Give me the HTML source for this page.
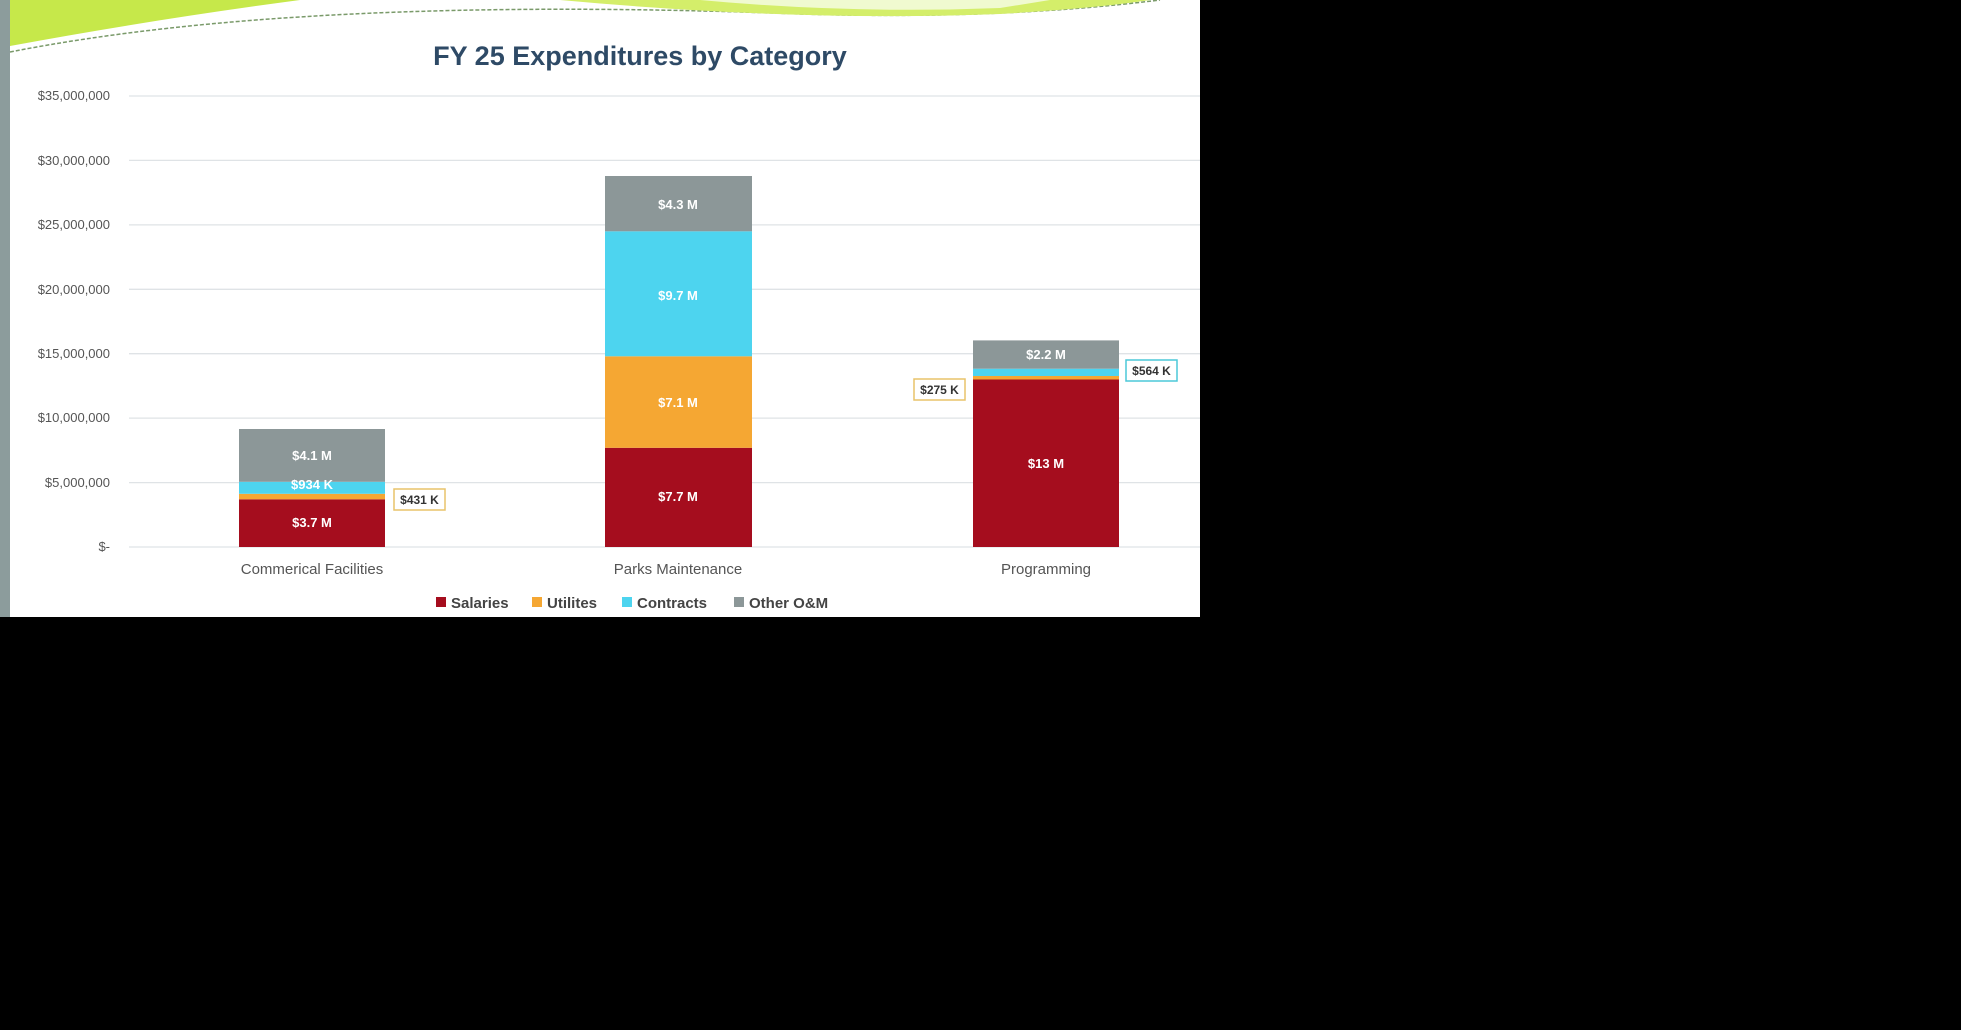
<!DOCTYPE html>
<html><head><style>
body{margin:0;background:#000;width:1961px;height:1030px;overflow:hidden;font-family:"Liberation Sans",sans-serif}
</style></head><body>
<svg width="1961" height="1030" xmlns="http://www.w3.org/2000/svg" style="position:absolute;left:0;top:0">
<rect x="0" y="0" width="1200" height="617" fill="#fff"/>
<rect x="0" y="0" width="10" height="617" fill="#8c9c9c"/>
<path d="M10 0 L300 0 Q150 20 10 46 Z" fill="#c6e84a"/>
<path d="M10 52 Q300 -5 800 14 Q1000 20 1160 0" fill="none" stroke="#7a9a6a" stroke-width="1.5" stroke-dasharray="4 2"/>
<path d="M560 0 Q800 22 1000 14 Q1100 8 1150 0 Z" fill="#d4ee6a"/>
<path d="M700 0 Q850 14 1000 8 L1050 0 Z" fill="#f0fad0"/>
<text x="640" y="65" text-anchor="middle" font-size="27" font-weight="bold" fill="#2e4a66">FY 25 Expenditures by Category</text>
<g stroke="#dfe3e6" stroke-width="1.3">
<line x1="129" x2="1200" y1="96" y2="96"/><line x1="129" x2="1200" y1="160.4" y2="160.4"/>
<line x1="129" x2="1200" y1="224.9" y2="224.9"/><line x1="129" x2="1200" y1="289.3" y2="289.3"/>
<line x1="129" x2="1200" y1="353.7" y2="353.7"/><line x1="129" x2="1200" y1="418.1" y2="418.1"/>
<line x1="129" x2="1200" y1="482.6" y2="482.6"/><line x1="129" x2="1200" y1="547" y2="547"/>
</g>
<g font-size="13" fill="#555" text-anchor="end">
<text x="110" y="100">$35,000,000</text><text x="110" y="165">$30,000,000</text>
<text x="110" y="229">$25,000,000</text><text x="110" y="294">$20,000,000</text>
<text x="110" y="358">$15,000,000</text><text x="110" y="422">$10,000,000</text>
<text x="110" y="487">$5,000,000</text><text x="110" y="551">$-</text>
</g>
<!-- CF -->
<rect x="239" y="499.3" width="146" height="47.7" fill="#a50d1e"/>
<rect x="239" y="493.8" width="146" height="5.5" fill="#f5a733"/>
<rect x="239" y="481.8" width="146" height="12" fill="#4dd4ef"/>
<rect x="239" y="429" width="146" height="52.8" fill="#8c9798"/>
<!-- PM -->
<rect x="605" y="447.8" width="147" height="99.2" fill="#a50d1e"/>
<rect x="605" y="356.3" width="147" height="91.5" fill="#f5a733"/>
<rect x="605" y="231.3" width="147" height="125" fill="#4dd4ef"/>
<rect x="605" y="176" width="147" height="55.3" fill="#8c9798"/>
<!-- Prog -->
<rect x="973" y="379.5" width="146" height="167.5" fill="#a50d1e"/>
<rect x="973" y="376" width="146" height="3.5" fill="#f5a733"/>
<rect x="973" y="368.7" width="146" height="7.3" fill="#4dd4ef"/>
<rect x="973" y="340.4" width="146" height="28.3" fill="#8c9798"/>
<g font-size="13" font-weight="bold" fill="#fff" text-anchor="middle">
<text x="312" y="527">$3.7 M</text><text x="312" y="489">$934 K</text><text x="312" y="460">$4.1 M</text>
<text x="678" y="501">$7.7 M</text><text x="678" y="407">$7.1 M</text><text x="678" y="300">$9.7 M</text><text x="678" y="209">$4.3 M</text>
<text x="1046" y="468">$13 M</text><text x="1046" y="359">$2.2 M</text>
</g>
<rect x="394" y="489" width="51" height="21" fill="#fff" stroke="#e8c36a" stroke-width="1.5"/>
<rect x="914" y="379" width="51" height="21" fill="#fff" stroke="#e8c36a" stroke-width="1.5"/>
<rect x="1126" y="360" width="51" height="21" fill="#fff" stroke="#4cc8d8" stroke-width="1.5"/>
<g font-size="12" font-weight="bold" fill="#333" text-anchor="middle">
<text x="419.5" y="504">$431 K</text><text x="939.5" y="394">$275 K</text><text x="1151.5" y="375">$564 K</text>
</g>
<g font-size="15" fill="#555" text-anchor="middle">
<text x="312" y="574">Commerical Facilities</text><text x="678" y="574">Parks Maintenance</text><text x="1046" y="574">Programming</text>
</g>
<g font-size="15" font-weight="bold" fill="#444">
<rect x="436" y="597" width="10" height="10" fill="#a50d1e"/><text x="451" y="608">Salaries</text>
<rect x="532" y="597" width="10" height="10" fill="#f5a733"/><text x="547" y="608">Utilites</text>
<rect x="622" y="597" width="10" height="10" fill="#4dd4ef"/><text x="637" y="608">Contracts</text>
<rect x="734" y="597" width="10" height="10" fill="#8c9798"/><text x="749" y="608">Other O&amp;M</text>
</g>
</svg>
</body></html>
